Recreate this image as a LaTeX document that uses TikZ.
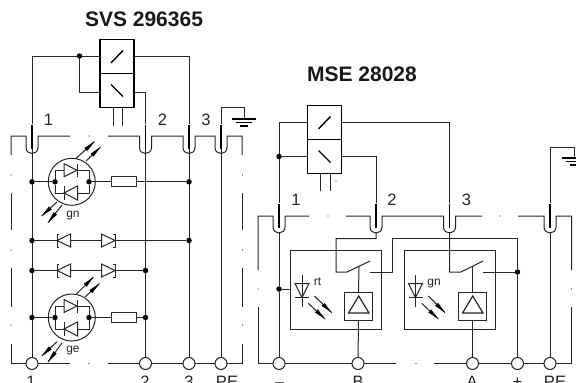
\documentclass[tikz,border=0pt]{standalone}
\usepackage{fontspec}
\usetikzlibrary{calc}
\setmainfont{Liberation Sans}
\tikzset{
  wire/.style={line width=1pt,black!85},
  frame/.style={line width=1pt,black!85},
  stem/.style={line width=1.8pt,black},
  pt/.style={circle,fill=black,draw=none,minimum size=5.5pt,inner sep=0,outer sep=0},
  speck/.style={circle,fill=black!85,draw=none,minimum size=1.2pt,inner sep=0,outer sep=0},
  term/.style={circle,draw=black!85,line width=1pt,fill=white,minimum size=12pt,inner sep=0,outer sep=0},
  res/.style={rectangle,draw=black!85,line width=1pt,fill=white,minimum width=25pt,minimum height=10pt,inner sep=0,outer sep=0},
  lamp/.style={circle,draw=black!85,line width=1pt,minimum size=47pt,inner sep=0,outer sep=0},
  relay/.style={rectangle,draw=black,line width=1.5pt,fill=white,minimum width=34pt,minimum height=34pt,inner sep=0,outer sep=0},
  unit/.style={rectangle,draw=black!85,line width=1pt,minimum width=91pt,minimum height=79pt,inner sep=0,outer sep=0},
  amp/.style={rectangle,draw=black!85,line width=1.2pt,minimum width=28pt,minimum height=28pt,inner sep=0,outer sep=0},
  lbl/.style={font=\fontsize{16.5}{17}\selectfont,inner sep=0,outer sep=0,anchor=base,black!85},
  small/.style={font=\fontsize{12}{12}\selectfont,inner sep=0,outer sep=0,anchor=base,black!85},
  title/.style={font=\fontsize{21}{22}\selectfont\bfseries,inner sep=0,outer sep=0,anchor=base,black!90},
  ray/.style={line width=1pt,black!85},
  rayhead/.style={fill=black,draw=none},
}
% ray with a long thin head: from #1 to #2
\newcommand{\ray}[2]{%
  \draw[ray] #1 -- #2;
  \path let \p1=#1,\p2=#2,\n1={atan2(\y2-\y1,\x2-\x1)} in
    [rayhead,fill=black] #2 -- ++(\n1+170:12pt) -- ++(\n1-90:4.2pt) -- cycle;
}
\newcommand{\diode}[4]{%
  \draw[wire,fill=white] (#1,#3-#4) -- (#2,#3) -- (#1,#3+#4) -- cycle;
  \draw[wire] (#2,#3-#4) -- (#2,#3+#4);
}
\newcommand{\zener}[5]{%
  \draw[wire,fill=white] (#1,#3-#4) -- (#2,#3) -- (#1,#3+#4) -- cycle;
  \draw[wire] (#2+#5,#3-#4) -- (#2,#3-#4) -- (#2,#3+#4) -- (#2+#5,#3+#4);
}
\newcommand{\ushape}[3]{%
  -- (#1-6,#2) -- (#1-6,#3) .. controls (#1-6,#3+8) and (#1+6,#3+8) .. (#1+6,#3) -- (#1+6,#2)
}
\begin{document}
\begin{tikzpicture}[x=1pt,y=-1pt]
\useasboundingbox (0,0) rectangle (576,383);
\clip (0,0) rectangle (576,383);
\fill[white] (0,0) rectangle (576,383);

% ---- titles
\node[title] (t1) at (144,26) {SVS 296365};
\node[title] (t2) at (362,81.5) {MSE 28028};

% ====== LEFT UNIT ======
\draw[frame] (11,155) -- (11,136) \ushape{32}{136}{147.5} -- (70,136);
\draw[frame] (108,136) \ushape{145.5}{136}{147.5} \ushape{189}{136}{147.5} \ushape{221}{136}{147.5} -- (242,136) -- (242,155);
\foreach \a/\b in {193/230,268/307,344/363.5}{
  \draw[frame] (11,\a) -- (11,\b);
  \draw[frame] (242,\a) -- (242,\b);
}
\draw[frame] (11,363.5) -- (70,363.5);
\draw[frame] (108,363.5) -- (242,363.5);
\foreach \n/\x/\y in {a/11/175,b/11/250,c/11/325,d/242.5/175,e/242.5/250,f/242.5/325,g/89/136,h/89/363.5}{
  \node[speck] (sL\n) at (\x,\y) {};
}

% terminals (bottom)
\node[term] (L1) at (32,363.5) {};
\node[term] (L2) at (145.5,363.5) {};
\node[term] (L3) at (189,363.5) {};
\node[term] (LPE) at (221,363.5) {};
\coordinate (T1) at (32,124);
\coordinate (T2) at (145.5,124);
\coordinate (T3) at (189,124);
\coordinate (TPE) at (221,124);
\draw[wire] (32,148) -- (L1);
\draw[wire] (145.5,148) -- (L2);
\draw[wire] (189,148) -- (L3);
\draw[wire] (221,148) -- (LPE);

% relay
\node[relay] (r1a) at (117.2,56.5) {};
\node[relay] (r1b) at (117.2,90.5) {};
\draw[line width=1.4pt,black] (111,63) -- (123,50.5);
\draw[line width=1.4pt,black] (111,84.5) -- (123,96.5);
\node[pt] (j1) at (79.5,56) {};
\draw[wire] (T1) |- (j1) -- (r1a.west |- j1);
\draw[wire] (j1) |- (r1b.west |- 0,92);
\draw[wire] (r1a.east |- 0,56) -| (T3);
\draw[wire] (r1b.east |- 0,92) -| (T2);
\draw[wire] (113,108) -- (113,125.5);
\draw[wire] (122,108) -- (122,125.5);
\draw[stem] (T1) ++(0,0.5) -- (32,149);
\draw[stem] (T2) ++(0,0.5) -- (145.5,149);
\draw[stem] (T3) ++(0,0.5) -- (189,149);
\draw[stem] (TPE) ++(0,0.5) -- (221,149);

% earth
\coordinate (E1) at (244,119);
\draw[wire] (TPE) -- (221,107.7) -- (244,107.7) -- (E1);
\draw[line width=1.2pt,black] (232,119) -- (256,119);
\draw[line width=1.2pt,black] (236,122.5) -- (252,122.5);
\draw[line width=1.2pt,black] (240,126) -- (248,126);

% labels
\node[lbl] (l1) at (48.5,125) {1};
\node[lbl] (l2) at (162.5,125) {2};
\node[lbl] (l3) at (206,125) {3};

% LED 1
\node[lamp] (LA) at (71.8,181.8) {};
\node[pt] (ja1) at (32,181.8) {};
\node[pt] (ja2) at (55,181.8) {};
\node[pt] (ja3) at (89,181.8) {};
\node[pt] (ja4) at (189,181.8) {};
\node[res] (RA) at (124,181.8) {};
\draw[wire] (ja1) -- (ja2);
\draw[wire] (ja3) -- (RA);
\draw[wire] (RA) -- (ja4);
\draw[wire] (ja2) |- (89,170) -- (ja3);
\draw[wire] (ja2) |- (89,193) -- (ja3);
\diode{64}{77}{170.3}{6.5}
\diode{77.5}{64}{193}{7}
\ray{(76,158.5)}{(94.5,141.5)}
\ray{(86,161)}{(100.5,147)}
\ray{(57,202)}{(41.7,216)}
\ray{(62,205)}{(48,222.7)}
\node[small] (gn1) at (73,217) {gn};

% middle rows
\node[pt] (jb1) at (32,240.5) {};
\node[pt] (jb2) at (189,240.5) {};
\draw[wire] (jb1) -- (jb2);
\zener{70.5}{57}{240.5}{6.5}{2}
\zener{101.5}{115}{240.5}{6.5}{-2}
\node[pt] (jc1) at (32,270.5) {};
\node[pt] (jc2) at (145.5,270.5) {};
\draw[wire] (jc1) -- (jc2);
\zener{70.5}{57}{270.5}{6.5}{2}
\zener{101.5}{115}{270.5}{6.5}{-2}

% LED 2
\node[lamp] (LB) at (71.8,317.5) {};
\node[pt] (jd1) at (32,317.5) {};
\node[pt] (jd2) at (55,317.5) {};
\node[pt] (jd3) at (89,317.5) {};
\node[pt] (jd4) at (145.5,317.5) {};
\node[res] (RB) at (124,317.5) {};
\draw[wire] (jd1) -- (jd2);
\draw[wire] (jd3) -- (RB);
\draw[wire] (RB) -- (jd4);
\draw[wire] (jd2) |- (89,306) -- (jd3);
\draw[wire] (jd2) |- (89,329) -- (jd3);
\diode{64}{77}{306}{6.5}
\diode{77.5}{64}{329}{7}
\ray{(76,294.5)}{(93.5,277)}
\ray{(85,297)}{(99.5,283.5)}
\ray{(57,341.7)}{(41.7,356)}
\ray{(62,343)}{(48,362)}
\node[small] (ge) at (73,352.5) {ge};

% bottom labels left (cut by the lower edge, as in the reference)
\node[lbl] (b1) at (31,387) {1};
\node[lbl] (b2) at (145,387) {2};
\node[lbl] (b3) at (189,387) {3};
\node[lbl] (bPE) at (227,387) {PE};

% ====== RIGHT UNIT ======
\draw[frame] (258,270) -- (258,216) \ushape{279}{216}{227} -- (309,216);
\draw[frame] (346,216) \ushape{376}{216}{227} \ushape{449.5}{216}{227} -- (482,216);
\draw[frame] (518,216) \ushape{550}{216}{227} -- (571.5,216) -- (571.5,270);
\foreach \x in {258,571.5}{\draw[frame] (\x,307) -- (\x,363.5);}
\draw[frame] (258,363.5) -- (396,363.5);
\draw[frame] (434,363.5) -- (571.5,363.5);
\foreach \n/\x/\y in {a/258/289,b/571.5/289,c/328/216,d/500/216,e/416/363.5,f/336/181}{
  \node[speck] (sR\n) at (\x,\y) {};
}

\node[term] (R1) at (279,363.5) {};
\node[term] (R2) at (358,363.5) {};
\node[term] (R3) at (472.5,363.5) {};
\node[term] (R4) at (517.5,363.5) {};
\node[term] (RPE) at (550,363.5) {};

\node[relay] (r2a) at (324.7,122.5) {};
\node[relay] (r2b) at (324.7,156.5) {};
\draw[line width=1.4pt,black] (318.5,129) -- (330.5,116.5);
\draw[line width=1.4pt,black] (318.5,150.5) -- (330.5,162.5);
\draw[wire] (320,173.5) -- (320,191);
\draw[wire] (330,173.5) -- (330,191);
\node[pt] (j2) at (279,156.5) {};
\coordinate (U1) at (279,203);
\coordinate (U2) at (376,203);
\coordinate (U3) at (449.5,203);
\coordinate (U4) at (550,203);
\draw[wire] (r2a.west) -| (j2);
\draw[wire] (j2) -- (r2b.west);
\draw[wire] (j2) -- (U1);
\draw[wire] (r2a.east) -| (U3);
\draw[wire] (r2b.east) -| (U2);
\foreach \x in {279,376,449.5,550}{\draw[stem] (\x,203.5) -- (\x,228);}

% earth right
\draw[wire] (U4) -- (550,147.5) -- (574,147.5) -- (574,158);
\draw[line width=1.2pt,black] (562,158) -- (580,158);
\draw[line width=1.2pt,black] (566,161.5) -- (580,161.5);
\draw[line width=1.2pt,black] (570,165) -- (578,165);

\node[lbl] (m1) at (296,205) {1};
\node[lbl] (m2) at (392,205) {2};
\node[lbl] (m3) at (466.5,205) {3};

% units
\node[unit] (u1) at (336,289.5) {};
\node[unit] (u2) at (450,289.5) {};
\node[amp] (a1) at (358.5,306.2) {};
\node[amp] (a2) at (472.5,306.2) {};
\draw[line width=1.2pt,black!85] (358.7,296) -- (369,313) -- (348.5,313) -- cycle;
\draw[line width=1.2pt,black!85] (472.7,296) -- (483,313) -- (462.5,313) -- cycle;

% wiring
\node[pt] (je) at (279,289) {};
\draw[wire] (279,232) -- (je);
\draw[wire] (je) -- (R1);
\draw[wire] (je) -- (u1.west |- je);
\draw[wire] (550,232) -- (RPE);
\draw[wire] (376,232) -- (376,238.5) -- (336,238.5) -- (336,272) -- (347,272) -- (370,261);
\draw[wire] (359,266) -- (a1.north);
\draw[wire] (a1.south) -- (R2);
\node[pt] (jf) at (517.5,272) {};
\draw[wire] (370,272) -- (392.5,272) -- (392.5,238.5) -- (517.5,238.5) -- (jf);
\draw[wire] (jf) -- (R4);
\draw[wire] (483,272) -- (jf);
\draw[wire] (449.5,232) -- (449.5,272) -- (461,272) -- (483,261);
\draw[wire] (472.5,266) -- (a2.north);
\draw[wire] (a2.south) -- (R3);

% LEDs in units
\foreach \c in {302,415.5}{
  \draw[wire] (\c,275) -- (\c,306.7);
  \draw[wire] (\c-7,283.5) -- (\c+7,283.5) -- (\c,297.5) -- cycle;
  \draw[wire] (\c-7,297.5) -- (\c+7,297.5);
}
\ray{(314.3,296)}{(331.7,312.7)}
\ray{(308.3,303.3)}{(325,319)}
\ray{(428.3,296)}{(445,312.7)}
\ray{(421.7,303.3)}{(438.3,319)}
\node[small] (rt) at (317.5,285) {rt};
\node[small] (gn2) at (434,285) {gn};

% bottom labels right (cut by the lower edge, as in the reference)
\node[lbl] (c1) at (279.5,387) {–};
\node[lbl] (c2) at (358,387) {B};
\node[lbl] (c3) at (472,387) {A};
\node[lbl] (c4) at (517.5,387) {+};
\node[lbl] (c5) at (555,387) {PE};
\end{tikzpicture}
\end{document}
